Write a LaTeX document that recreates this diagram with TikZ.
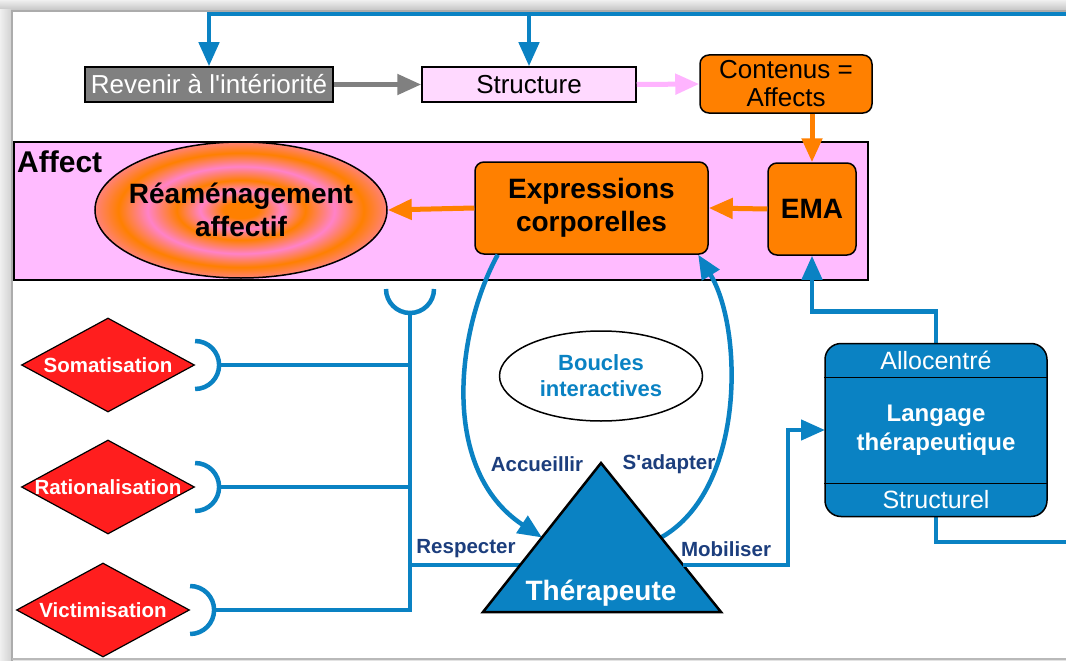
\documentclass[tikz,border=0pt]{standalone}
\usepackage{fontspec}
\setmainfont{Liberation Sans}[Ligatures=TeXOff]
\usetikzlibrary{positioning,arrows.meta,shapes.geometric,calc}

\definecolor{linkblue}{RGB}{10,130,195}
\definecolor{labelblue}{RGB}{28,62,125}
\definecolor{affectorange}{RGB}{255,128,0}
\definecolor{affectpink}{RGB}{255,187,255}
\definecolor{structpink}{RGB}{255,217,255}
\definecolor{arrowpink}{RGB}{255,180,255}
\definecolor{boxgray}{RGB}{128,128,128}
\definecolor{defred}{RGB}{255,30,30}
\definecolor{ringpink}{RGB}{255,130,200}

\pgfdeclareradialshading{affectrings}{\pgfpoint{0bp}{0bp}}{%
  color(0bp)=(affectorange); color(3bp)=(affectorange); color(7bp)=(ringpink);
  color(11bp)=(affectorange); color(16bp)=(ringpink); color(21bp)=(affectorange);
  color(25bp)=(ringpink!60!affectorange); color(50bp)=(ringpink!60!affectorange)}

\begin{document}
\begin{tikzpicture}[x=1pt, y=-1pt,
    box/.style={draw=black, line width=1.5pt, minimum height=35, inner sep=0pt, font=\fontsize{26}{28}\selectfont},
    orangebox/.style={draw=black, line width=1.5pt, fill=affectorange, rounded corners=9, inner sep=0pt, align=center},
    bigtext/.style={font=\bfseries\fontsize{28}{33}\selectfont},
    defense/.style={diamond, draw=black, line width=1.2pt, fill=defred, minimum width=173, minimum height=94, inner sep=0pt},
    deftext/.style={text=white, font=\bfseries\fontsize{20.5}{22}\selectfont, inner sep=0pt},
    link/.style={draw=linkblue, line width=4.5pt},
    linkarrow/.style={link, -{Triangle[length=24pt, width=20pt]}},
    flow/.style={line width=5pt, -{Triangle[length=24pt, width=20pt]}},
    verb/.style={text=labelblue, font=\bfseries\fontsize{20.5}{22}\selectfont, inner sep=0pt}
]
\useasboundingbox (0,0) rectangle (1066,661);

% Window frame
\fill[gray!22] (0,0) rectangle (1066,661);
\shade[top color=gray!12, bottom color=gray!45] (0,0) rectangle (1066,10);
\shade[left color=gray!12, right color=gray!35] (0,10) rectangle (11,661);
\fill[white] (12,11) rectangle (1066,658);
\draw[gray!65, line width=1.5] (12,661) -- (12,11) -- (1066,11);
\draw[gray!55, line width=1.5] (12,659) -- (1066,659);

% Top row
\node[box, fill=boxgray, text=white, minimum width=248] (revenir) at (209,84.5) {Revenir à l'intériorité};
\node[box, fill=structpink, minimum width=214] (structure) at (529,84.5) {Structure};
\node[orangebox, minimum width=172, minimum height=58, font=\fontsize{26}{28}\selectfont] (contenus) at (786,84) {Contenus =\\Affects};
\draw[flow, boxgray] (revenir.east) -- (structure.west);
\draw[flow, arrowpink] (structure.east) -- (contenus.west);

\coordinate (topright) at (1066,14);
\draw[linkarrow] (topright) -| (revenir.north);
\draw[linkarrow] (structure.north |- topright) -- (structure.north);

% Affect region
\node[draw=black, line width=1.5pt, fill=affectpink, minimum width=854, minimum height=138, inner sep=0pt] (affbox) at (441,211) {};
\node[anchor=base west, inner sep=0pt, font=\bfseries\fontsize{30}{32}\selectfont] (afflabel) at (17,172) {Affect};

\node[ellipse, draw=black, line width=1.5pt, shade, shading=affectrings, minimum width=292, minimum height=136, inner sep=0pt,
  label={[bigtext, align=center, inner sep=0pt]center:Réaménagement\\affectif}] (reamen) at (241,210) {};
\node[orangebox, bigtext, minimum width=233, minimum height=92] (expr) at (591.5,208) {Expressions\\corporelles};
\node[orangebox, bigtext, minimum width=88, minimum height=92] (ema) at (812,209) {EMA};

\draw[flow, affectorange] (contenus.south -| ema.north) -- (ema.north);
\draw[flow, affectorange] (ema.west) -- (expr.east);
\draw[flow, affectorange] (expr.west) -- (reamen.east);

% Defenses
\node[defense, label={[deftext]center:Somatisation}] (soma) at (108,365) {};
\node[defense, label={[deftext]center:Rationalisation}] (ratio) at (108,487) {};
\node[defense, label={[deftext]center:Victimisation}] (victim) at (103,610) {};

\coordinate (cup) at (410,289);
\foreach \d in {soma, ratio, victim} {
  \draw[link] ($(\d.east)+(0,-24)$) arc[start angle=-90, end angle=90, radius=24];
}
\draw[link] ($(soma.east)+(24,0)$) -- (soma.east -| cup);
\draw[link] ($(ratio.east)+(24,0)$) -- (ratio.east -| cup);
\draw[link] ($(victim.east)+(24,0)$) -- (victim.east -| cup) -- ($(cup)+(0,24)$);
\draw[link] ($(cup)+(-24,0)$) arc[start angle=180, end angle=0, radius=24];

% Therapist
\coordinate (apex) at (601,463);
\coordinate (baseleft) at (483,612);
\coordinate (baseright) at (721,612);
\coordinate (respin) at ($(apex)!0.685!(baseleft)$);
\coordinate (mobout) at ($(apex)!0.685!(baseright)$);
\coordinate (accin) at ($(apex)!0.5!(baseleft)$);
\coordinate (adaout) at ($(apex)!0.5!(baseright)$);
\coordinate (loopout) at ($(expr.south west)!0.1!(expr.south east)$);
\coordinate (loopin) at ($(expr.south west)!0.955!(expr.south east)$);

\draw[link] (respin -| cup) -- (respin);
\draw[linkarrow] (loopout) .. controls +(-42,77) and +(-102,-67) .. (accin);
\draw[linkarrow] (adaout) .. controls +(85,-48) and +(45,73) .. (loopin);

\draw[draw=black, fill=linkblue, line width=2.5pt] (apex) -- (baseright) -- (baseleft) -- cycle;
\node[text=white, font=\bfseries\fontsize{28}{30}\selectfont] (therapeute) at (601,593) {Thérapeute};

\node[ellipse, draw=black, line width=1.5pt, minimum width=203, minimum height=90, inner sep=0pt, align=center, text=linkblue, font=\bfseries\fontsize{22}{26}\selectfont] (boucles) at (601,376) {Boucles\\interactives};

\node[verb] (respecter) at (466,549) {Respecter};
\node[verb] (mobiliser) at (726,549) {Mobiliser};
\node[verb] (accueillir) at (537,464) {Accueillir};
\node[verb] (sadapter) at (669,464) {S'adapter};

% Therapeutic language
\coordinate (rightlow) at (1066,542);
\draw[link] (936,500) |- (rightlow);
\draw[linkarrow] (936,400) -- (936,311.5) -| (ema.south);
\draw[linkarrow] (mobout) -| (788,430) -- (825,430);

\node[draw=black, line width=1.5pt, fill=linkblue, rounded corners=16, minimum width=222, minimum height=173, inner sep=0pt, align=center, text=white, font=\bfseries\fontsize{24}{29}\selectfont] (langage) at (936,430) {Langage\\thérapeutique};
\coordinate (divtop) at (936,377);
\coordinate (divbot) at (936,483);
\draw[line width=1pt] (langage.west |- divtop) -- (langage.east |- divtop);
\draw[line width=1pt] (langage.west |- divbot) -- (langage.east |- divbot);
\node[text=white, font=\fontsize{25}{27}\selectfont] (allocentre) at (936,360) {Allocentré};
\node[text=white, font=\fontsize{25}{27}\selectfont] (structurel) at (936,500) {Structurel};

\end{tikzpicture}
\end{document}
